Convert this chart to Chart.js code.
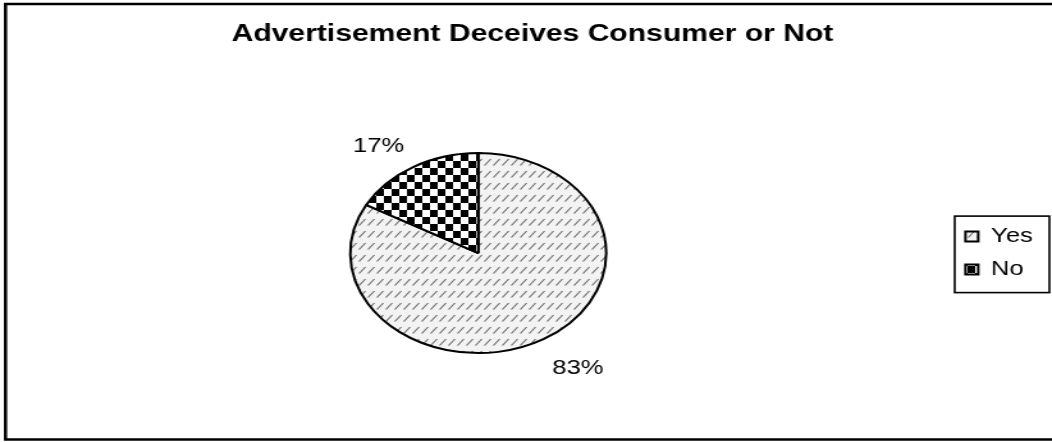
<!DOCTYPE html>
<html>
<head>
<meta charset="utf-8">
<script src="https://cdn.jsdelivr.net/npm/chart.js@4/dist/chart.umd.min.js"></script>
<style>
  html, body { margin: 0; padding: 0; background: #fff; overflow: hidden; }
  /* the reference is a stretched picture, so the canvas is drawn narrow and widened */
  #adChart { transform: scaleX(1.2798); transform-origin: 0 0; }
</style>
</head>
<body>
<canvas id="adChart" width="822" height="442"></canvas>
<script>
// Chart data
const answers = ['Yes', 'No'];
const shares = [83, 17];
const chartTitle = 'Advertisement Deceives Consumer or Not';

const fontFamily = '"Liberation Sans", Arial, Helvetica, sans-serif';

// Get the 2D context of the canvas
const ctx = document.getElementById('adChart').getContext('2d');

// Light grey diagonal hatch used for the "Yes" slice
function makeHatch()
{
    const tile = document.createElement('canvas');
    tile.width = 7;
    tile.height = 12;
    const t = tile.getContext('2d');
    t.fillStyle = '#f3f3f3';
    t.fillRect(0, 0, 7, 12);
    t.strokeStyle = '#6e6e6e';
    t.lineWidth = 1.2;
    t.beginPath();
    t.moveTo(0.5, 9.5);
    t.lineTo(5.5, 3);
    t.stroke();
    return ctx.createPattern(tile, 'repeat');
}

// Black and white checkerboard used for the "No" slice
function makeChecker()
{
    const tile = document.createElement('canvas');
    tile.width = 12;
    tile.height = 14;
    const t = tile.getContext('2d');
    t.fillStyle = '#ffffff';
    t.fillRect(0, 0, 12, 14);
    t.fillStyle = '#000000';
    t.fillRect(0, 0, 6, 7);
    t.fillRect(6, 7, 6, 7);
    return ctx.createPattern(tile, 'repeat');
}

// Small empty layout box between the pie and the legend (moves the pie left of the title centre)
const spacerPlugin = {
    id: 'spacer',
    beforeInit(chart) {
        Chart.layouts.addBox(chart, {
            position: 'right',
            weight: 0,
            fullSize: false,
            options: {},
            width: 0,
            height: 0,
            isHorizontal() { return false; },
            update(maxWidth, maxHeight) {
                this.width = 9;
                this.height = maxHeight;
            },
            draw() {}
        });
    }
};

// Outer frame and the box round the legend
const framePlugin = {
    id: 'frame',
    beforeDraw(chart) {
        const c = chart.ctx;
        c.save();
        c.fillStyle = '#ffffff';
        c.fillRect(0, 0, chart.width, chart.height);
        c.strokeStyle = '#000000';
        c.lineWidth = 2.5;
        c.strokeRect(4.3, 4, chart.width + 20, 435.5);
        c.restore();
    },
    afterDraw(chart) {
        const boxes = chart.legend.legendHitBoxes;
        if (!boxes || !boxes.length) return;
        const first = boxes[0];
        const last = boxes[boxes.length - 1];
        const c = chart.ctx;
        c.save();
        c.strokeStyle = '#000000';
        c.lineWidth = 1.6;
        const left = first.left - 8.4;
        const top = first.top + first.height / 2 - 20.5;
        const bottom = last.top + last.height / 2 + 23;
        c.strokeRect(left, top, 74, bottom - top);
        c.restore();
    }
};

// Percentage labels placed outside each slice
const percentPlugin = {
    id: 'percentLabels',
    afterDatasetsDraw(chart) {
        const meta = chart.getDatasetMeta(0);
        const values = chart.data.datasets[0].data;
        const total = values.reduce((a, b) => a + b, 0);
        const c = chart.ctx;
        c.save();
        c.fillStyle = '#000000';
        c.font = '20px ' + fontFamily;
        c.textAlign = 'center';
        c.textBaseline = 'middle';
        meta.data.forEach((arc, i) => {
            const p = arc.getProps(['x', 'y', 'startAngle', 'endAngle', 'outerRadius'], true);
            const mid = (p.startAngle + p.endAngle) / 2;
            const lx = p.x + Math.cos(mid) * p.outerRadius * 1.53;
            const ly = p.y + Math.sin(mid) * p.outerRadius * 1.29 + 4;
            c.fillText(Math.round(values[i] / total * 100) + '%', lx, ly);
        });
        c.restore();
    }
};

// Create the pie chart
const chart = new Chart(ctx, {
    type: 'pie',
    data: {
        labels: answers,
        datasets: [
            {
                data: shares,
                backgroundColor: [makeHatch(), makeChecker()],
                borderColor: '#000000',
                borderWidth: 2,
                radius: 100
            }
        ]
    },
    options: {
        responsive: false,
        animation: false,
        devicePixelRatio: 1,
        layout: {
            padding: { left: 15, right: 5, top: 0, bottom: 6 }
        },
        plugins: {
            title: {
                display: true,
                text: chartTitle,
                color: '#000000',
                font: { family: fontFamily, size: 23.5, weight: 'bold' },
                padding: { top: 20, bottom: 22 }
            },
            legend: {
                position: 'right',
                fullSize: false,
                labels: {
                    color: '#000000',
                    font: { family: fontFamily, size: 20 },
                    boxWidth: 10,
                    boxHeight: 10,
                    padding: 13
                }
            },
            tooltip: { enabled: false }
        }
    },
    plugins: [spacerPlugin, framePlugin, percentPlugin]
});
</script>
</body>
</html>
